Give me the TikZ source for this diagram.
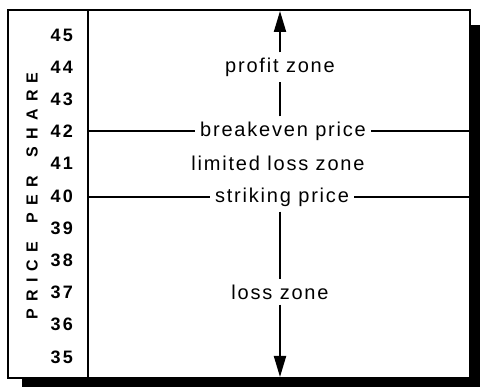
\documentclass[tikz,border=0pt]{standalone}
\usepackage{fontspec}
\setmainfont{Liberation Sans}
\newfontfamily\zonefont[LetterSpace=9]{Liberation Sans}
\newfontfamily\numfont[LetterSpace=12]{Liberation Sans}
\newfontfamily\axisfont[LetterSpace=45]{Liberation Sans}
\usetikzlibrary{arrows.meta}
\tikzset{
  zone/.style={font=\zonefont\fontsize{20}{20}\selectfont, inner sep=5pt},
  tick/.style={font=\numfont\bfseries\fontsize{18}{18}\selectfont, anchor=east, inner sep=0pt},
  frame/.style={line width=2pt},
  level/.style={line width=1.6pt},
  zonearrow/.style={line width=2pt, -{Triangle[length=21pt,width=12pt]}},
  seg/.style={line width=2pt}
}
\begin{document}
\begin{tikzpicture}[x=1pt,y=-1pt]
\useasboundingbox (0,0) rectangle (480,387);
% shadow
\fill[black] (22,25) rectangle (480,387);
% frame
\draw[frame, fill=white] (8,10) rectangle (470,378);
\draw[frame] (88,10) -- (88,378);
\coordinate (top) at (280,11);
\coordinate (bot) at (280,377);
% axis label
\node[rotate=90, font=\axisfont\bfseries\fontsize{16}{16}\selectfont, inner sep=0pt] (axis) at (32,196) {PRICE\hspace{7pt} PER\hspace{7pt} SHARE};
% ticks
\foreach \v [count=\i from 0] in {45,44,43,42,41,40,39,38,37,36,35}
  \node[tick] (t\v) at (73,{35+32.2*\i}) {\v};
% zone labels
\node[zone] (profit) at (280,67) {profit zone};
\node[zone] (breakeven) at (283,131) {breakeven price};
\node[zone, inner sep=2pt] (limited) at (278,163) {limited loss zone};
\node[zone] (striking) at (282,197) {striking price};
\node[zone] (loss) at (280,292) {loss zone};
% level lines
\coordinate (bkL) at (88,131);
\coordinate (bkR) at (470,131);
\coordinate (stL) at (88,197);
\coordinate (stR) at (470,197);
\draw[level] (bkL) -- (breakeven.west);
\draw[level] (breakeven.east) -- (bkR);
\draw[level] (stL) -- (striking.west);
\draw[level] (striking.east) -- (stR);
% arrows
\draw[zonearrow] (profit.north) -- (top);
\draw[seg] (breakeven.north -| top) -- (profit.south);
\draw[seg] (striking.south -| top) -- (loss.north);
\draw[zonearrow] (loss.south) -- (bot);
\end{tikzpicture}
\end{document}
